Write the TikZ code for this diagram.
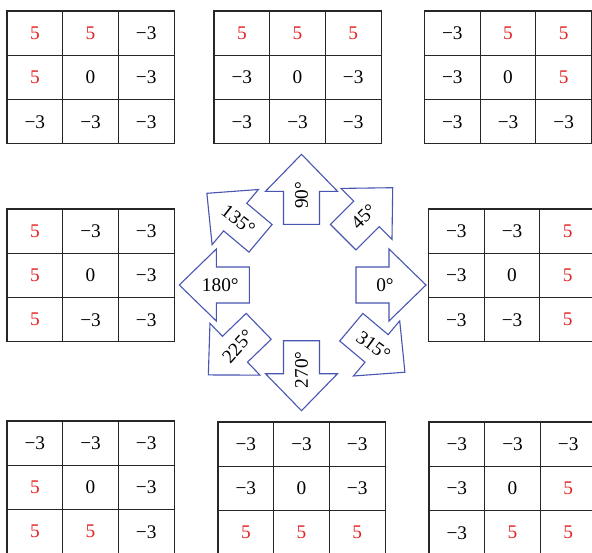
\documentclass[tikz,border=0pt]{standalone}
\usepackage{fontspec}
\setmainfont{Liberation Serif}
\definecolor{kred}{RGB}{228,38,38}
\definecolor{kblue}{RGB}{72,86,178}
\newcommand\kfive{\textcolor{kred}{5}}
\newcommand\kneg{−3}
\newcommand\kzero{0}
\tikzset{
  cell/.style={inner sep=0pt, font=\fontsize{19.3}{21}\selectfont},
  gridline/.style={line width=1.1pt, draw=black!85},
  arrowshape/.style={draw=kblue, line width=1.1pt, fill=white, line join=miter},
  arrowlabel/.style={inner sep=0pt, font=\fontsize{19.3}{21}\selectfont},
}
% name, x0, y0 (top-left, image coordinates), nine entries
\newcommand\kgrid[4]{%
  \begin{scope}[shift={(#2,#3)}]
    \foreach \v [count=\i from 0] in {#4}{
      \pgfmathtruncatemacro\kr{\i/3}
      \pgfmathtruncatemacro\kc{\i-3*\kr}
      \node[cell] (#1-\kr\kc) at ({(\kc+0.5)*55.7},{(\kr+0.5)*44.3}) {\v};
    }
    \draw[gridline] (0,0) rectangle (167.1,132.9);
    \draw[gridline] (55.7,0) -- (55.7,132.9) (111.4,0) -- (111.4,132.9)
                    (0,44.3) -- (167.1,44.3) (0,88.6) -- (167.1,88.6);
  \end{scope}}
% name, base x, base y, direction, text rotation, label
\newcommand\karrow[6]{%
  \begin{scope}[shift={(#2,#3)}, rotate=#4]
    \draw[arrowshape] (0,18) -- (33,18) -- (33,36) -- (70,0) -- (33,-36) -- (33,-18) -- (0,-18) -- cycle;
    \node[arrowlabel, rotate=#5] (#1) at (29,0) {#6};
  \end{scope}}
\begin{document}
\begin{tikzpicture}[x=1pt,y=-1pt]
  \useasboundingbox (0,0) rectangle (592,552);
  \clip (0,0) rectangle (592,552);
  \fill[white] (0,0) rectangle (592,552);
  \kgrid{tl}{7}{11}{\kfive,\kfive,\kneg,\kfive,\kzero,\kneg,\kneg,\kneg,\kneg}
  \kgrid{tm}{214}{11}{\kfive,\kfive,\kfive,\kneg,\kzero,\kneg,\kneg,\kneg,\kneg}
  \kgrid{tr}{424.5}{11}{\kneg,\kfive,\kfive,\kneg,\kzero,\kfive,\kneg,\kneg,\kneg}
  \kgrid{ml}{7}{209}{\kfive,\kneg,\kneg,\kfive,\kzero,\kneg,\kfive,\kneg,\kneg}
  \kgrid{mr}{428.5}{209}{\kneg,\kneg,\kfive,\kneg,\kzero,\kfive,\kneg,\kneg,\kfive}
  \kgrid{bl}{7}{421}{\kneg,\kneg,\kneg,\kfive,\kzero,\kneg,\kfive,\kfive,\kneg}
  \kgrid{bm}{218}{422}{\kneg,\kneg,\kneg,\kneg,\kzero,\kneg,\kfive,\kfive,\kfive}
  \kgrid{br}{429}{422}{\kneg,\kneg,\kneg,\kneg,\kzero,\kfive,\kneg,\kfive,\kfive}
  \karrow{a0}{356}{285}{0}{0}{0°}
  \karrow{a45}{343.2}{237.2}{45}{45}{45°}
  \karrow{a90}{301.5}{224.3}{90}{90}{90°}
  \karrow{a135}{260.5}{238.3}{140}{-38}{135°}
  \karrow{a180}{249.3}{285}{180}{0}{180°}
  \karrow{a225}{258.7}{326.3}{224}{48}{225°}
  \karrow{a270}{301.5}{340.7}{270}{90}{270°}
  \karrow{a315}{351.3}{327.2}{320}{-36}{315°}
\end{tikzpicture}
\end{document}
